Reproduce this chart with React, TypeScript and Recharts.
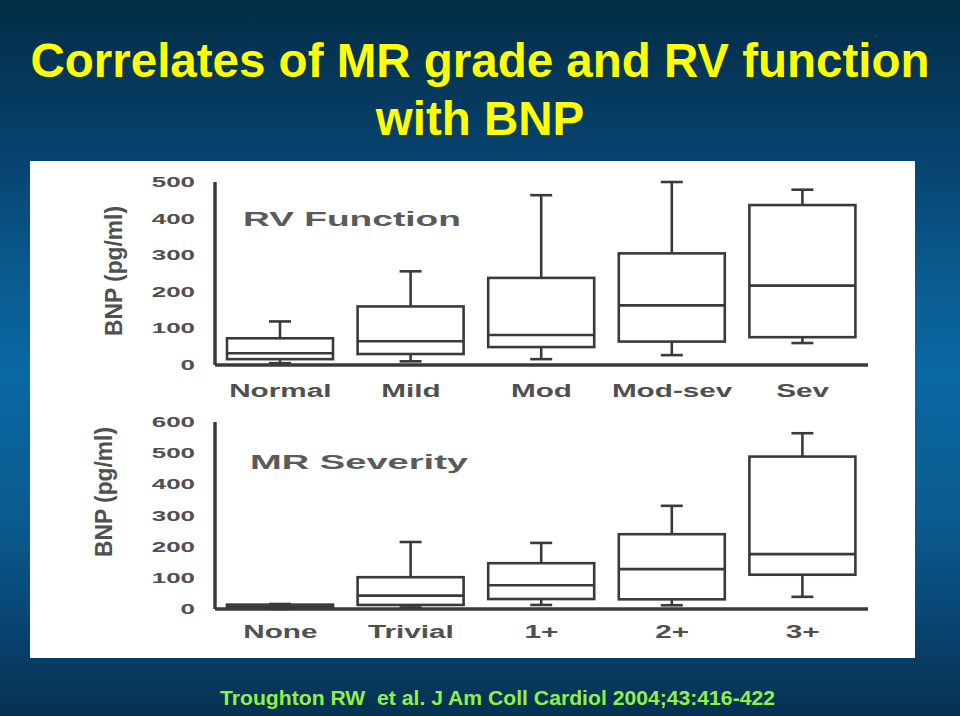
import React from 'react';
import { ComposedChart, Bar, XAxis, YAxis } from 'recharts';

// RV function panel
const rvCategories = ['Normal', 'Mild', 'Mod', 'Mod-sev', 'Sev'];
const rvMin = [5, 10, 16, 27, 60];
const rvQ1 = [16, 30, 49, 64, 76];
const rvMedian = [32, 65, 82, 163, 217];
const rvQ3 = [73, 160, 238, 305, 437];
const rvMax = [119, 256, 464, 500, 479];
const rvTicks = [0, 100, 200, 300, 400, 500];

// MR severity panel
const mrCategories = ['None', 'Trivial', '1+', '2+', '3+'];
const mrMin = [0, 5, 13, 12, 39];
const mrQ1 = [3, 13, 32, 31, 110];
const mrMedian = [8, 43, 76, 128, 176];
const mrQ3 = [14, 102, 147, 240, 489];
const mrMax = [16, 215, 212, 331, 564];
const mrTicks = [0, 100, 200, 300, 400, 500, 600];

const LINE = '#3a3a3a';
const TEXT = '#505050';

const buildRows = (cats: string[], mn: number[], q1: number[], md: number[], q3: number[], mx: number[]) =>
  cats.map((name, i) => ({ name, min: mn[i], q1: q1[i], median: md[i], q3: q3[i], max: mx[i] }));

const rvData = buildRows(rvCategories, rvMin, rvQ1, rvMedian, rvQ3, rvMax);
const mrData = buildRows(mrCategories, mrMin, mrQ1, mrMedian, mrQ3, mrMax);

// box + whiskers, positioned by interpolating inside the [min, max] bar recharts gives us
const BoxShape = (props: any) => {
  const { x, y, width, height, payload } = props;
  if (!payload) return null;
  const top = Math.min(y, y + height);
  const h = Math.abs(height);
  const { min, q1, median, q3, max } = payload;
  const span = max - min || 1;
  const py = (v: number) => top + (h * (max - v)) / span;
  const cx = x + width / 2;
  const cap = 11;
  return (
    <g stroke={LINE} strokeWidth={2.6} fill="none">
      <line x1={cx} y1={py(max)} x2={cx} y2={py(q3)} />
      <line x1={cx} y1={py(q1)} x2={cx} y2={py(min)} />
      <line x1={cx - cap} y1={py(max)} x2={cx + cap} y2={py(max)} />
      <line x1={cx - cap} y1={py(min)} x2={cx + cap} y2={py(min)} />
      <rect x={x} y={py(q3)} width={width} height={py(q1) - py(q3)} />
      <line x1={x} y1={py(median)} x2={x + width} y2={py(median)} />
    </g>
  );
};

const YTick = (props: any) => {
  const { x, y, payload } = props;
  return (
    <text
      transform={`translate(${x},${y + 5}) scale(1.85,1)`}
      textAnchor="end"
      fontFamily="Liberation Sans, Arial, sans-serif"
      fontWeight="bold"
      fontSize={14}
      fill={TEXT}
    >
      {payload.value}
    </text>
  );
};

const XTick = (props: any) => {
  const { x, y, payload, dy = 20 } = props;
  return (
    <text
      transform={`translate(${x},${y + dy}) scale(1.65,1)`}
      textAnchor="middle"
      fontFamily="Liberation Sans, Arial, sans-serif"
      fontWeight="bold"
      fontSize={18}
      fill={TEXT}
    >
      {payload.value}
    </text>
  );
};

type PanelProps = {
  data: any[];
  ticks: number[];
  top: number;
  height: number;
  plotHeight: number;
  labelDy: number;
  inset: string;
  insetX: number;
  insetY: number;
  yLabelX: number;
  yLabelY: number;
};

const BoxPanel = ({ data, ticks, top, height, plotHeight, labelDy, inset, insetX, insetY, yLabelX, yLabelY }: PanelProps) => (
  <div style={{ position: 'absolute', left: 30, top }}>
    <ComposedChart
      width={885}
      height={height}
      data={data}
      margin={{ top: 22, right: 47, left: 125, bottom: 0 }}
    >
      <XAxis
        dataKey="name"
        height={height - 22 - plotHeight}
        axisLine={{ stroke: LINE, strokeWidth: 3.5 }}
        tickLine={false}
        tickSize={0}
        tickMargin={4}
        tick={<XTick dy={labelDy} />}
        interval={0}
        label={{
          content: () => (
            <text
              x={insetX}
              y={insetY}
              textLength={218}
              lengthAdjust="spacingAndGlyphs"
              fontFamily="Liberation Sans, Arial, sans-serif"
              fontWeight="bold"
              fontSize={21}
              fill="#5a5a5a"
            >
              {inset}
            </text>
          ),
        }}
      />
      <YAxis
        type="number"
        domain={[0, ticks[ticks.length - 1]]}
        ticks={ticks}
        width={60}
        axisLine={{ stroke: LINE, strokeWidth: 3.5 }}
        tickLine={false}
        tickSize={0}
        tickMargin={20}
        tick={<YTick />}
        label={{
          content: () => (
            <text
              transform={`translate(${yLabelX},${yLabelY}) rotate(-90)`}
              textAnchor="middle"
              textLength={130}
              lengthAdjust="spacingAndGlyphs"
              fontFamily="Liberation Sans, Arial, sans-serif"
              fontWeight="bold"
              fontSize={24}
              fill={TEXT}
            >
              BNP (pg/ml)
            </text>
          ),
        }}
      />
      <Bar
        dataKey={(d: any) => [d.min, d.max]}
        barSize={106}
        shape={<BoxShape />}
        isAnimationActive={false}
      />
    </ComposedChart>
  </div>
);

if (typeof document !== 'undefined') document.body.style.margin = '0';

export default function App() {
  return (
    <div
      style={{
        position: 'absolute',
        left: 0,
        top: 0,
        width: 960,
        height: 716,
        overflow: 'hidden',
        background:
          'linear-gradient(to bottom, #032d46 0%, #06406a 20%, #0a5d93 40%, #0a67a2 52%, #0a5c90 72%, #084370 88%, #063151 100%)',
      }}
    >
      <svg width={960} height={160} style={{ position: 'absolute', left: 0, top: 0 }}>
        <g fontFamily="Liberation Sans, Arial, sans-serif" fontWeight="bold" fontSize={47.5} fill="#ffff00">
          <text x={480} y={77} textAnchor="middle">
            Correlates of MR grade and RV function
          </text>
          <text x={480} y={135} textAnchor="middle">
            with BNP
          </text>
        </g>
      </svg>
      <div style={{ position: 'absolute', left: 30, top: 161, width: 885, height: 497, background: '#ffffff' }} />
      <BoxPanel
        data={rvData}
        ticks={rvTicks}
        top={160}
        height={250}
        plotHeight={183}
        labelDy={28}
        inset="RV Function"
        insetX={213}
        insetY={66}
        yLabelX={92}
        yLabelY={111}
      />
      <BoxPanel
        data={mrData}
        ticks={mrTicks}
        top={400}
        height={258}
        plotHeight={187}
        labelDy={25}
        inset="MR Severity"
        insetX={220}
        insetY={69}
        yLabelX={82}
        yLabelY={92}
      />
      <svg width={960} height={60} style={{ position: 'absolute', left: 0, top: 660 }}>
        <text
          x={220}
          y={45}
          textLength={555}
          lengthAdjust="spacingAndGlyphs"
          fontFamily="Liberation Sans, Arial, sans-serif"
          fontWeight="bold"
          fontSize={20}
          fill="#90f048"
          style={{ whiteSpace: 'pre' }}
        >
          Troughton RW  et al. J Am Coll Cardiol 2004;43:416-422
        </text>
      </svg>
    </div>
  );
}
